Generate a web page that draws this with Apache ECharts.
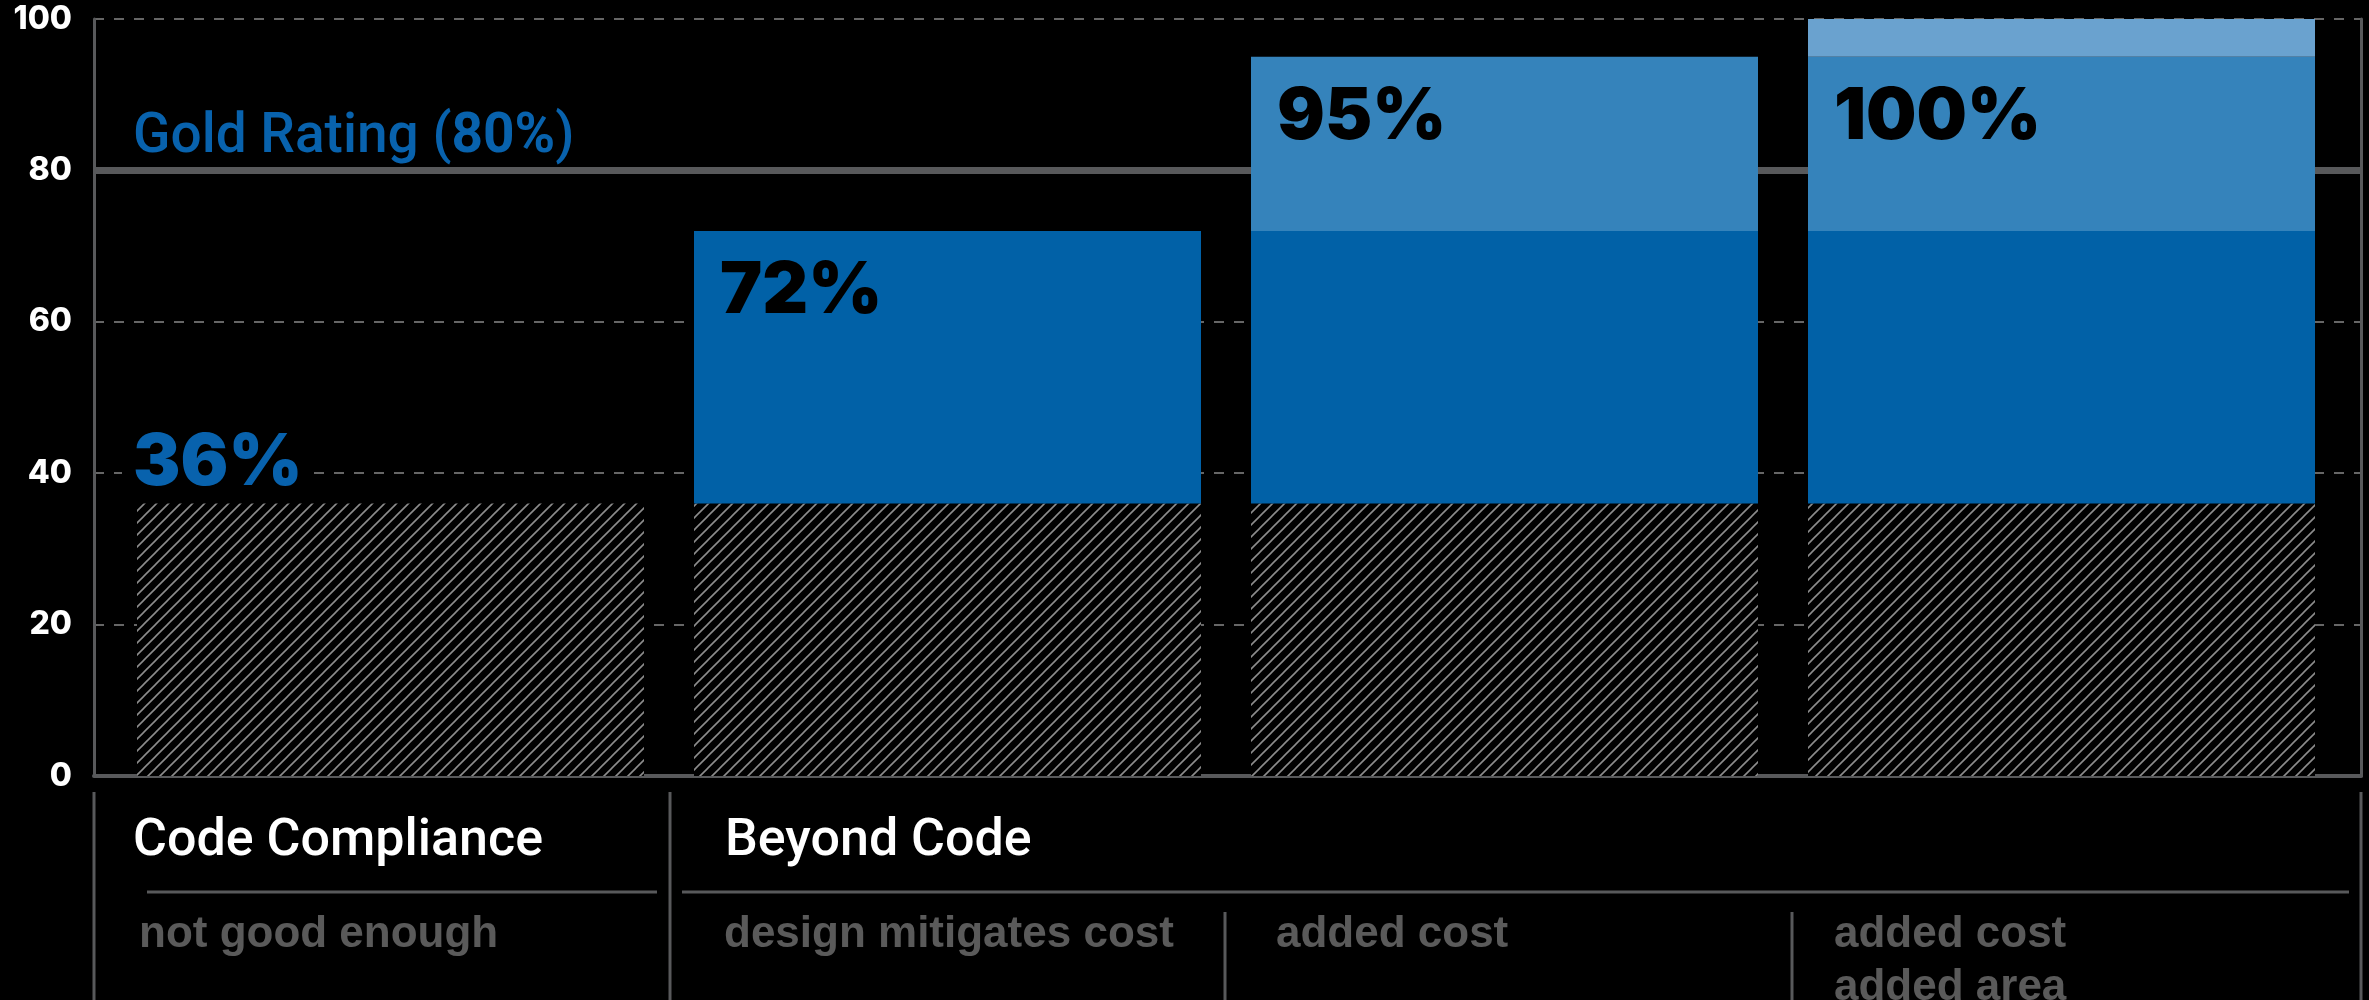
<!DOCTYPE html>
<html><head><meta charset="utf-8">
<script src="https://cdn.jsdelivr.net/npm/echarts@6/dist/echarts.min.js"></script>
<style>html,body{margin:0;padding:0;background:#000;overflow:hidden}#c{width:2369px;height:1000px}</style>
</head><body><div id="c"></div>
<script>
// ---- data ----
const categories = ['Code Compliance', 'Design Mitigates Cost', 'Added Cost', 'Added Cost + Area'];
const baseCode   = [36, 36, 36, 36];
const designGain = [null, 36, 36, 36];
const costGain   = [null, null, 23, 23];
const areaGain   = [null, null, null, 5];
const totalLabels = ['36%', '72%', '95%', '100%'];
const yTicks = [0, 20, 40, 60, 80, 100];
const goldRating = 80;
const goldLabel = ['Gold Rating (', '80%', ')'];
const groupHeaders = ['Code Compliance', 'Beyond Code'];
const notes = [['not good enough'], ['design mitigates cost'], ['added cost'], ['added cost', 'added area']];

// ---- styles ----
const GRAY = '#58595b';
const BLUE_TXT = '#0862ad';
const DARK = '#0161a7', MED = '#3583bb', LIGHT = '#6aa2cf';
const NUM_FONT = 'Inter';

function hatch() {
  const s = 12, c = document.createElement('canvas');
  c.width = s; c.height = s;
  const g = c.getContext('2d');
  g.fillStyle = '#000'; g.fillRect(0, 0, s, s);
  g.strokeStyle = '#8c8c8c'; g.lineWidth = 1.6;
  g.beginPath();
  g.moveTo(-1, s + 1); g.lineTo(s + 1, -1);
  g.moveTo(-2, 2); g.lineTo(2, -2);
  g.moveTo(s - 2, s + 2); g.lineTo(s + 2, s - 2);
  g.stroke();
  return c;
}
const hatchPattern = { image: hatch(), repeat: 'repeat' };

// which series carries the total label for each bar
function labelOwner(i) {
  if (costGain[i] != null) return 'cost';
  if (designGain[i] != null) return 'design';
  return 'base';
}
function mk(arr, key) {
  return arr.map((v, i) => {
    if (v == null || labelOwner(i) !== key) return v;
    if (key === 'base') {
      return { value: v, label: { show: true, formatter: totalLabels[i], position: [-15, -4], align: 'left', verticalAlign: 'bottom',
        color: BLUE_TXT, fontFamily: NUM_FONT, fontWeight: 900, fontSize: 71, backgroundColor: '#000', padding: [0, 11, 0, 11] } };
    }
    return { value: v, label: { show: true, formatter: totalLabels[i], position: [26, 25], align: 'left', verticalAlign: 'top',
      color: '#000', fontFamily: NUM_FONT, fontWeight: 900, fontSize: 71 } };
  });
}

const W = 2369, H = 1000;
const gridTop = 19, gridBottomY = 776;
const barSeriesBase = { type: 'bar', stack: 'total', xAxisIndex: 1, yAxisIndex: 2, barWidth: 507, z: 5, silent: true };

// ---- bottom annotation graphics ----
const lineStyle = { stroke: GRAY, lineWidth: 3 };
const graphics = [];
[[94, 792, 94, 1000], [670, 792, 670, 1000], [2361, 792, 2361, 1000], [1225, 912, 1225, 1000], [1792, 912, 1792, 1000],
 [147, 892, 657, 892], [682, 892, 2349, 892]].forEach(p => {
  graphics.push({ type: 'line', shape: { x1: p[0], y1: p[1], x2: p[2], y2: p[3] }, style: lineStyle, silent: true });
});
const headerX = [133, 725];
groupHeaders.forEach((t, i) => graphics.push({ type: 'text', x: headerX[i], y: 842,
  style: { text: t, fill: '#fff', font: '500 52px Roboto, "Liberation Sans", Arial, sans-serif', textVerticalAlign: 'middle' } }));
const noteX = [139, 724, 1276, 1834];
notes.forEach((lines, i) => lines.forEach((t, j) => graphics.push({ type: 'text', x: noteX[i], y: 935 + j * 53,
  style: { text: t, fill: '#5a5a5a', font: 'bold 44px "Liberation Sans", Arial, sans-serif', textVerticalAlign: 'middle' } })));

const chart = echarts.init(document.getElementById('c'), null, { width: W, height: H });
chart.setOption({
  backgroundColor: '#000',
  animation: false,
  grid: [
    { left: 94, right: W - 2361, top: gridTop, bottom: H - gridBottomY },
    { left: 112, right: W - 2340, top: gridTop, bottom: H - gridBottomY }
  ],
  xAxis: [
    { type: 'category', gridIndex: 0, data: categories, axisLine: { lineStyle: { color: GRAY, width: 4 } },
      axisTick: { show: false }, axisLabel: { show: false }, splitLine: { show: false } },
    { type: 'category', gridIndex: 1, data: categories, show: false }
  ],
  yAxis: [
    { type: 'value', gridIndex: 0, min: yTicks[0], max: yTicks[yTicks.length - 1], interval: yTicks[1] - yTicks[0],
      axisLine: { show: true, lineStyle: { color: GRAY, width: 3 } }, axisTick: { show: false },
      axisLabel: { color: '#fff', fontFamily: NUM_FONT, fontWeight: 800, fontSize: 32, margin: 22 },
      splitLine: { show: true, lineStyle: { color: '#666', width: 2, type: [10, 10] } } },
    { type: 'value', gridIndex: 0, position: 'right', min: 0, max: 100, interval: 20,
      axisLine: { show: true, lineStyle: { color: GRAY, width: 3 } }, axisTick: { show: false },
      axisLabel: { show: false }, splitLine: { show: false } },
    { type: 'value', gridIndex: 1, min: 0, max: 100, show: false, splitLine: { show: false } }
  ],
  graphic: graphics,
  series: [
    { type: 'line', xAxisIndex: 0, yAxisIndex: 0, data: categories.map(() => null), showSymbol: false, silent: true, z: 3,
      markLine: { silent: true, symbol: 'none', animation: false,
        lineStyle: { color: GRAY, width: 7, type: 'solid' },
        label: { show: true, position: 'insideStartTop', distance: [39, 5],
          formatter: '{a|' + goldLabel[0] + '}{b|' + goldLabel[1] + '}{a|' + goldLabel[2] + '}',
          rich: { a: { color: BLUE_TXT, fontSize: 55, fontFamily: 'Roboto', fontWeight: 500 },
                  b: { color: BLUE_TXT, fontSize: 55, fontFamily: 'Roboto', fontWeight: 'bold' } } },
        data: [{ yAxis: goldRating }] } },
    Object.assign({}, barSeriesBase, { name: 'Code', data: mk(baseCode, 'base'), itemStyle: { color: hatchPattern } }),
    Object.assign({}, barSeriesBase, { name: 'Design', data: mk(designGain, 'design'), itemStyle: { color: DARK } }),
    Object.assign({}, barSeriesBase, { name: 'Cost', data: mk(costGain, 'cost'), itemStyle: { color: MED } }),
    Object.assign({}, barSeriesBase, { name: 'Area', data: areaGain, itemStyle: { color: LIGHT } })
  ]
});
</script></body></html>
